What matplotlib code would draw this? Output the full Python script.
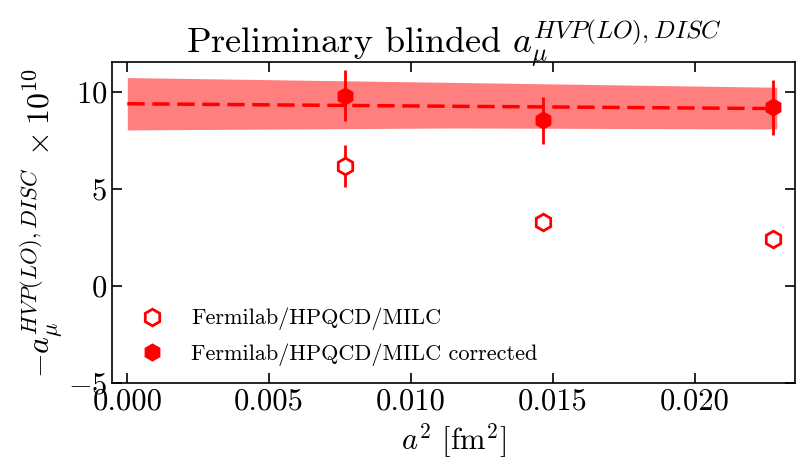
import matplotlib
matplotlib.use("Agg")
import matplotlib.pyplot as plt
from matplotlib.lines import Line2D

plt.rcParams['font.family'] = 'serif'
plt.rcParams['font.serif'] = ['cmr10', 'DejaVu Serif']
plt.rcParams['mathtext.fontset'] = 'cm'
plt.rcParams['axes.formatter.use_mathtext'] = True

# data
a2 = [0.00769, 0.01466, 0.02276]
raw_y = [6.19, 3.28, 2.42]
raw_err = [1.07, 0.20, 0.18]
cor_y = [9.82, 8.55, 9.22]
cor_err = [1.30, 1.20, 1.42]

fit_x = [0.0, 0.0115, 0.0229]
fit_y = [9.40, 9.27, 9.15]
fit_lo = [8.05, 8.15, 8.10]
fit_hi = [10.75, 10.50, 10.25]

labels = ['Fermilab/HPQCD/MILC', 'Fermilab/HPQCD/MILC corrected']
xtick_vals = [0.0, 0.005, 0.01, 0.015, 0.02]
xtick_labels = ['0.000', '0.005', '0.010', '0.015', '0.020']
ytick_vals = [-5, 0, 5, 10]

fig = plt.figure(figsize=(8, 4.7), dpi=100)
ax = fig.add_axes([0.14, 0.185, 0.854, 0.683])

ax.fill_between(fit_x, fit_lo, fit_hi, color='red', alpha=0.5, lw=0)
ax.plot(fit_x, fit_y, '--', color='red', lw=2.5, dashes=(5, 2.2))

ax.errorbar(a2, raw_y, yerr=raw_err, fmt='h', mfc='white', mec='red', ecolor='red',
            ms=12, mew=2, elinewidth=2, capsize=0)
ax.errorbar(a2, cor_y, yerr=cor_err, fmt='h', mfc='red', mec='red', ecolor='red',
            ms=12, mew=1, elinewidth=2, capsize=0)

handles = [Line2D([], [], ls='none', marker='h', mfc='white', mec='red', ms=12, mew=2),
           Line2D([], [], ls='none', marker='h', mfc='red', mec='red', ms=12, mew=1)]

ax.set_xlim(-0.00054, 0.02355)
ax.set_ylim(-5, 11.55)
ax.set_xticks(xtick_vals)
ax.set_xticklabels(xtick_labels)
ax.set_yticks(ytick_vals)
ax.tick_params(direction='in', top=True, right=True, length=7, width=1.2, labelsize=22)
for s in ax.spines.values():
    s.set_linewidth(1.2)

ax.set_xlabel(r'$a^2$ [fm$^2$]', fontsize=22, labelpad=4)
ax.set_ylabel(r'$-a_\mu^{HVP(LO),DISC} \;\times 10^{10}$', fontsize=23, labelpad=2)
ax.set_title(r'Preliminary blinded $a_\mu^{HVP(LO),DISC}$', fontsize=26)

ax.legend(handles, labels, loc='lower left', frameon=False, fontsize=16, handlelength=1.5,
          handletextpad=1.0, labelspacing=0.6, bbox_to_anchor=(0.005, -0.01))

fig.savefig('out.png', dpi=100)
